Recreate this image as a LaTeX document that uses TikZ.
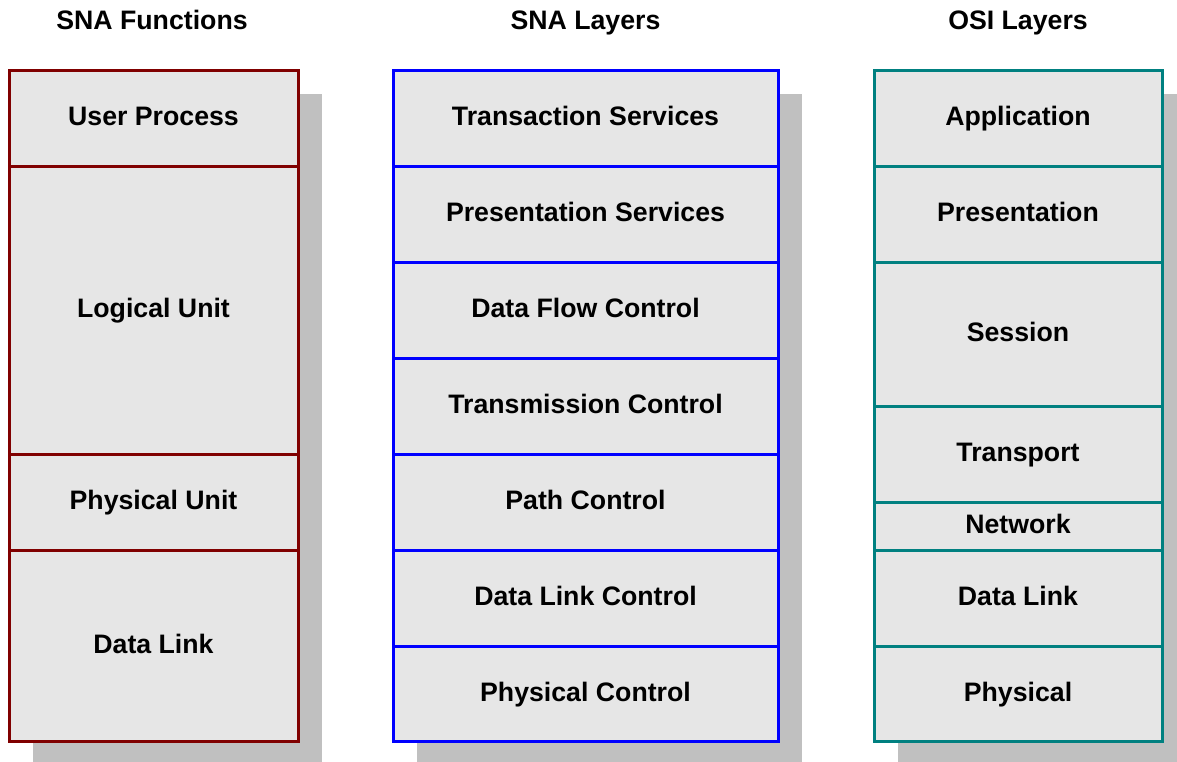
\documentclass[tikz,border=0pt]{standalone}
\usepackage{fontspec}
\setmainfont{Liberation Sans}
\definecolor{snared}{HTML}{800000}
\definecolor{snablue}{HTML}{0000FF}
\definecolor{ositeal}{HTML}{008080}
\definecolor{cellfill}{HTML}{E6E6E6}
\definecolor{shadowgray}{HTML}{C0C0C0}
\begin{document}
\begin{tikzpicture}[x=1pt,y=-1pt,
  lbl/.style={font=\fontsize{26.7}{30}\selectfont\bfseries, text=black, text height=19pt, text depth=4pt},
  cell/.style={lbl, rectangle, fill=cellfill, line width=3pt, inner sep=0pt, outer sep=0pt},
  cellA/.style={cell, draw=snared, minimum width=289pt},
  cellB/.style={cell, draw=snablue, minimum width=385pt},
  cellC/.style={cell, draw=ositeal, minimum width=288pt},
  title/.style={lbl, anchor=center, inner sep=0pt}
]
\useasboundingbox (0,0) rectangle (1177,761);
\fill[white] (0,0) rectangle (1177,761);
\begin{scope}
\clip (0,0) rectangle (1177,761);
\fill[shadowgray] (33,94) rectangle (322,770);
\fill[shadowgray] (417,94) rectangle (802,770);
\fill[shadowgray] (898,94) rectangle (1190,770);
\end{scope}

% titles
\node[title] (t1) at (152,21.5) {SNA Functions};
\node[title] (t2) at (585.5,21.5) {SNA Layers};
\node[title] (t3) at (1018,21.5) {OSI Layers};

% SNA Functions
\node[cellA, minimum height=96pt] (a1) at (153.5,118) {User Process};
\node[cellA, minimum height=288pt] (a2) at (153.5,310) {Logical Unit};
\node[cellA, minimum height=96pt] (a3) at (153.5,502) {Physical Unit};
\node[cellA, minimum height=191pt] (a4) at (153.5,645.5) {Data Link};

% SNA Layers
\node[cellB, minimum height=96pt] (b1) at (585.5,118) {Transaction Services};
\node[cellB, minimum height=96pt] (b2) at (585.5,214) {Presentation Services};
\node[cellB, minimum height=96pt] (b3) at (585.5,310) {Data Flow Control};
\node[cellB, minimum height=96pt] (b4) at (585.5,406) {Transmission Control};
\node[cellB, minimum height=96pt] (b5) at (585.5,502) {Path Control};
\node[cellB, minimum height=96pt] (b6) at (585.5,598) {Data Link Control};
\node[cellB, minimum height=95pt] (b7) at (585.5,693.5) {Physical Control};

% OSI Layers
\node[cellC, minimum height=96pt] (c1) at (1018,118) {Application};
\node[cellC, minimum height=96pt] (c2) at (1018,214) {Presentation};
\node[cellC, minimum height=144pt] (c3) at (1018,334) {Session};
\node[cellC, minimum height=96pt] (c4) at (1018,454) {Transport};
\node[cellC, minimum height=48pt] (c5) at (1018,526) {Network};
\node[cellC, minimum height=96pt] (c6) at (1018,598) {Data Link};
\node[cellC, minimum height=95pt] (c7) at (1018,693.5) {Physical};
\end{tikzpicture}
\end{document}
